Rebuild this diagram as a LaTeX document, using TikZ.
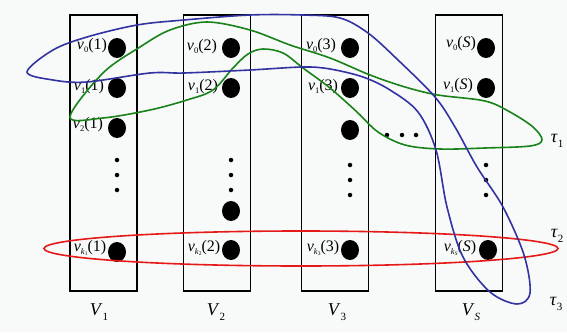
\documentclass[tikz,border=0pt]{standalone}
\usepackage{fontspec}
\setmainfont{Liberation Serif}
\usetikzlibrary{shapes.geometric}
\definecolor{bg}{RGB}{248,250,249}
\definecolor{cblue}{RGB}{50,50,160}
\definecolor{cgreen}{RGB}{25,130,25}
\definecolor{cred}{RGB}{230,25,25}
\newcommand\vlab[2]{\textit{v}\raisebox{-0.35ex}{\fontsize{8.5}{8.5}\selectfont #1}(#2)}
\newcommand\ksub[1]{\textit{k}\raisebox{-0.3ex}{\fontsize{5.5}{5.5}\selectfont #1}}
\newcommand\setlab[1]{\textit{V}\raisebox{-0.6ex}{\fontsize{11}{11}\selectfont #1}}
\begin{document}
\begin{tikzpicture}[x=1pt,y=-1pt,
  box/.style={draw=black,line width=1.7pt,minimum width=67pt,minimum height=276pt,inner sep=0pt},
  bigdot/.style={fill=black,ellipse,minimum width=18pt,minimum height=20pt,inner sep=0pt},
  smalldot/.style={fill=black,circle,minimum size=4.5pt,inner sep=0pt},
  lbl/.style={inner sep=0pt,font=\fontsize{16}{16}\selectfont},
  setlbl/.style={inner sep=0pt,font=\fontsize{18}{18}\selectfont},
  hyper/.style={line width=1.6pt}]
\fill[bg] (0,0) rectangle (567,332);
\useasboundingbox (0,0) rectangle (567,332);
% boxes
\node[box] (B1) at (103.5,153) {};
\node[box] (B2) at (217,153) {};
\node[box] (B3) at (335,153) {};
\node[box] (BS) at (469,153) {};
% column 1
\node[bigdot] (a0) at (117,48) {};
\node[bigdot] (a1) at (117,88) {};
\node[bigdot] (a2) at (117,128) {};
\node[smalldot] (ad1) at (117,160) {};
\node[smalldot] (ad2) at (117,175) {};
\node[smalldot] (ad3) at (117,190) {};
\node[bigdot] (ak) at (117,252) {};
% column 2
\node[bigdot] (b0) at (231,48) {};
\node[bigdot] (b1) at (231,88) {};
\node[smalldot] (bd1) at (231,160) {};
\node[smalldot] (bd2) at (231,175) {};
\node[smalldot] (bd3) at (231,190) {};
\node[bigdot] (b2) at (231,211) {};
\node[bigdot] (bk) at (231,250) {};
% column 3
\node[bigdot] (c0) at (350,48) {};
\node[bigdot] (c1) at (350,88) {};
\node[bigdot] (c2) at (350,130) {};
\node[smalldot] (cd1) at (350,165) {};
\node[smalldot] (cd2) at (350,180) {};
\node[smalldot] (cd3) at (350,195) {};
\node[bigdot] (ck) at (350,250) {};
% horizontal dots
\node[smalldot] (h1) at (387,135) {};
\node[smalldot] (h2) at (402,135) {};
\node[smalldot] (h3) at (416,135) {};
% column S
\node[bigdot] (s0) at (486,48) {};
\node[bigdot] (s1) at (486,88) {};
\node[smalldot] (sd1) at (486,165) {};
\node[smalldot] (sd2) at (486,180) {};
\node[smalldot] (sd3) at (486,195) {};
\node[bigdot] (sk) at (488,250) {};
% labels
\node[lbl] (la0) at (92,46) {\vlab{0}{1}};
\node[lbl] (la1) at (89,87) {\vlab{1}{1}};
\node[lbl] (la2) at (88,125) {\vlab{2}{1}};
\node[lbl] (lak) at (90,248) {\vlab{\ksub{1}}{1}};
\node[lbl] (lb0) at (202,47) {\vlab{0}{2}};
\node[lbl] (lb1) at (203,87) {\vlab{1}{2}};
\node[lbl] (lbk) at (204,248) {\vlab{\ksub{2}}{2}};
\node[lbl] (lc0) at (321,46) {\vlab{0}{3}};
\node[lbl] (lc1) at (323,87) {\vlab{1}{3}};
\node[lbl] (lck) at (323,248) {\vlab{\ksub{3}}{3}};
\node[lbl] (ls0) at (461,44) {\vlab{0}{\textit{S}}};
\node[lbl] (ls1) at (458,86) {\vlab{1}{\textit{S}}};
\node[lbl] (lsk) at (460,248) {\vlab{\ksub{\textit{S}}}{\textit{S}}};
\node[setlbl] (V1) at (99,312) {\setlab{1}};
\node[setlbl] (V2) at (216,312) {\setlab{2}};
\node[setlbl] (V3) at (337,312) {\setlab{3}};
\node[setlbl] (VS) at (471,312) {\setlab{\textit{S}}};
\node[setlbl] (t1) at (557,141) {\textit{τ}\raisebox{-0.6ex}{\fontsize{11}{11}\selectfont 1}};
\node[setlbl] (t2) at (557,236) {\textit{τ}\raisebox{-0.6ex}{\fontsize{11}{11}\selectfont 2}};
\node[setlbl] (t3) at (556,304) {\textit{τ}\raisebox{-0.6ex}{\fontsize{11}{11}\selectfont 3}};
% hyperedges
\draw[hyper,cred] (301,248.5) ellipse [x radius=257, y radius=17.5];
\draw[hyper,cgreen] plot[smooth cycle,tension=0.55] coordinates {
 (70,117) (103,73) (140,47) (170,30) (207,22) (250,30) (290,45) (330,58) (370,75)
 (405,87) (438,95) (485,101) (510,112) (533,127) (542,140) (530,146) (485,148)
 (440,149) (405,145) (378,132) (357,112) (330,88) (303,68) (283,53) (263,49)
 (248,54) (233,68) (213,90) (187,100) (150,110) (103,118)};
\draw[hyper,cblue] plot[smooth cycle,tension=0.55] coordinates {
 (27,72) (53,50) (87,37) (137,25) (184,20) (250,15) (302,15) (340,18) (368,33)
 (398,60) (435,97) (455,127) (477,167) (503,207) (524,255) (530,293) (517,304)
 (490,292) (463,257) (447,207) (436,150) (418,112) (390,90) (363,77) (330,69)
 (303,67) (250,70) (184,73) (150,73) (87,82) (53,80)};
\end{tikzpicture}
\end{document}
